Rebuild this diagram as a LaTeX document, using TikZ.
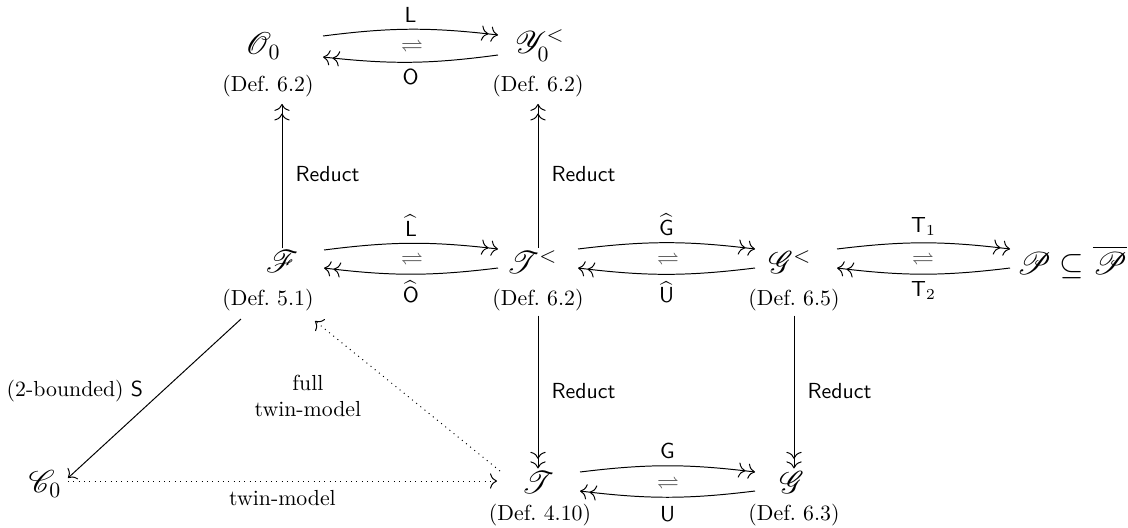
\documentclass[tikz,border=0pt]{standalone}
\usepackage{amsmath,amssymb}
\usepackage{mathrsfs}
\usetikzlibrary{arrows.meta}
\begin{document}
\begin{tikzpicture}[x=0.4587pt,y=-0.4587pt,
  sym/.style={inner sep=1pt,font=\Large},
  defn/.style={inner sep=1pt},
  lab/.style={inner sep=3pt,font=\sffamily},
  harp/.style={inner sep=0pt,text=black!70},
  tip/.tip={To[length=3.2pt,width=7pt]},
  two/.style={line width=0.45pt,-{tip[sep=1.2pt]tip}},
  one/.style={line width=0.45pt,-{tip}},
  dots/.style={line width=0.45pt,dotted,-{tip}}]
\useasboundingbox (0,0) rectangle (1128,527);
% nodes
\node[sym] (O0) at (263,46) {$\mathscr{O}_0$};
\node[defn] (O0d) at (268,86) {(Def.~6.2)};
\node[sym] (Y0) at (540,46) {$\mathscr{Y}_0^{<}$};
\node[defn] (Y0d) at (538,86) {(Def.~6.2)};
\node[sym] (F) at (282,262) {$\mathscr{F}$};
\node[defn] (Fd) at (268,300) {(Def.~5.1)};
\node[sym] (Tl) at (532,262) {$\mathscr{T}^{<}$};
\node[defn] (Tld) at (538,300) {(Def.~6.2)};
\node[sym] (Gl) at (790,262) {$\mathscr{G}^{<}$};
\node[defn] (Gld) at (794,300) {(Def.~6.5)};
\node[sym] (P) at (1072,262) {$\mathscr{P}\subseteq\overline{\mathscr{P}}$};
\node[sym] (C0) at (45,484) {$\mathscr{C}_0$};
\node[sym] (T) at (538,482) {$\mathscr{T}$};
\node[defn] (Td) at (540,515) {(Def.~4.10)};
\node[sym] (G) at (792,482) {$\mathscr{G}$};
\node[defn] (Gd) at (794,515) {(Def.~6.3)};
% harpoons
\node[harp] (h1) at (412,46) {$\rightleftharpoons$};
\node[harp] (h2) at (412,259) {$\rightleftharpoons$};
\node[harp] (h3) at (668,259) {$\rightleftharpoons$};
\node[harp] (h4) at (923,259) {$\rightleftharpoons$};
\node[harp] (h5) at (668,483) {$\rightleftharpoons$};
% horizontal pairs
\draw[two] ([shift={(60,-10)}]O0.center) to[bend left=7] node[lab,above] {$\mathsf{L}$} ([shift={(-42,-11)}]Y0.center);
\draw[two] ([shift={(-42,9)}]Y0.center) to[bend left=7] node[lab,below] {$\mathsf{O}$} ([shift={(60,11)}]O0.center);
\draw[two] ([shift={(42,-12)}]F.center) to[bend left=7] node[lab,above] {$\widehat{\mathsf{L}}$} ([shift={(-34,-13)}]Tl.center);
\draw[two] ([shift={(-34,6)}]Tl.center) to[bend left=7] node[lab,below] {$\widehat{\mathsf{O}}$} ([shift={(42,6)}]F.center);
\draw[two] ([shift={(46,-13)}]Tl.center) to[bend left=7] node[lab,above] {$\widehat{\mathsf{G}}$} ([shift={(-35,-13)}]Gl.center);
\draw[two] ([shift={(-35,6)}]Gl.center) to[bend left=7] node[lab,below] {$\widehat{\mathsf{U}}$} ([shift={(46,6)}]Tl.center);
\draw[two] ([shift={(47,-13)}]Gl.center) to[bend left=7] node[lab,above] {$\mathsf{T}_1$} ([shift={(-62,-13)}]P.center);
\draw[two] ([shift={(-62,6)}]P.center) to[bend left=7] node[lab,below] {$\mathsf{T}_2$} ([shift={(47,6)}]Gl.center);
\draw[two] ([shift={(42,-10)}]T.center) to[bend left=7] node[lab,above] {$\mathsf{G}$} ([shift={(-37,-10)}]G.center);
\draw[two] ([shift={(-37,9)}]G.center) to[bend left=7] node[lab,below,inner sep=4pt] {$\mathsf{U}$} ([shift={(42,9)}]T.center);
% vertical
\draw[two,shorten >=2pt] (F.north) -- (F.north |- O0d.south) node[lab,midway,right=3pt] {Reduct};
\draw[two,shorten >=2pt] (Tld.north |- Tl.north) -- (Tld.north |- Y0d.south) node[lab,midway,right=3pt] {Reduct};
\draw[two,shorten <=1pt] (Tld.south) -- (Tld.south |- T.north) node[lab,midway,right=3pt] {Reduct};
\draw[two,shorten <=1pt] (Gld.south) -- (Gld.south |- G.north) node[lab,midway,right=3pt] {Reduct};
% diagonal and dotted
\draw[one] ([shift={(-27,19)}]Fd.center) -- ([shift={(23,-6)}]C0.center) node[pos=0.45,left=8pt,inner sep=1pt] {(2-bounded) $\mathsf{S}$};
\draw[dots] ([shift={(-38,-11)}]T.center) -- ([shift={(47,21)}]Fd.center) node[midway,left=20pt,align=center,inner sep=1pt] {full\\twin-model};
\draw[dots] ([shift={(23,-3)}]C0.center) -- ([shift={(-41,-1)}]T.center) node[midway,below=3pt,inner sep=1pt] {twin-model};
\end{tikzpicture}
\end{document}
